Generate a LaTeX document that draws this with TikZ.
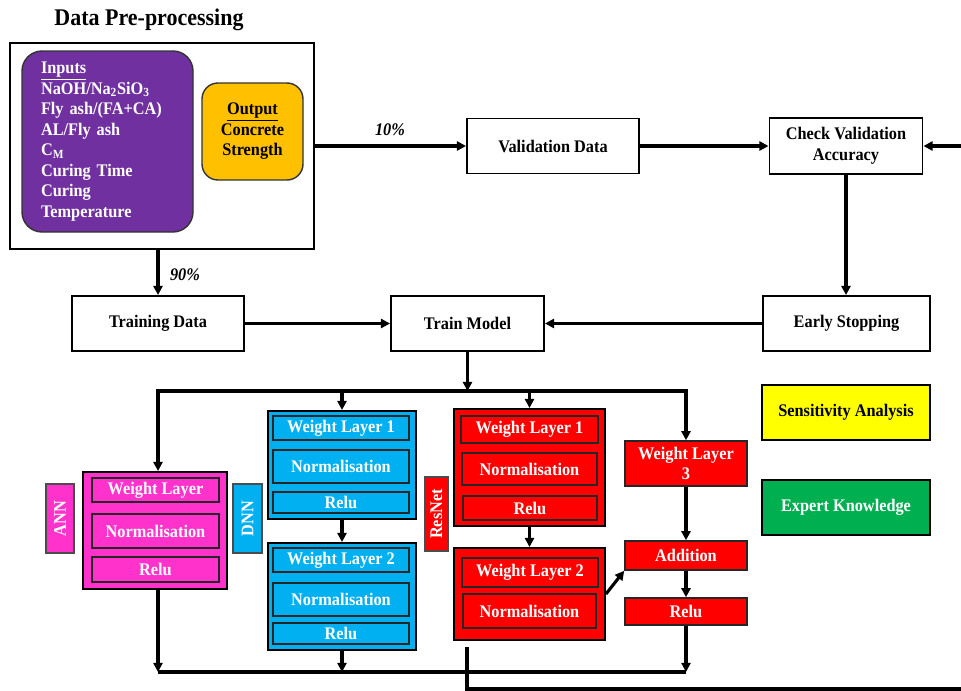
\documentclass[tikz,border=0pt]{standalone}
\usepackage{fontspec}
\setmainfont[FakeStretch=0.92]{Liberation Serif}
\usetikzlibrary{arrows.meta}

\definecolor{inpurple}{HTML}{7030A0}
\definecolor{outorange}{HTML}{FFC000}
\definecolor{annpink}{HTML}{FF33CC}
\definecolor{dnnblue}{HTML}{00B0F0}
\definecolor{resred}{HTML}{FF0000}
\definecolor{sensyellow}{HTML}{FFFF00}
\definecolor{expgreen}{HTML}{00B050}
\newcommand{\bfont}{\fontsize{12.6}{14.6}\selectfont\bfseries}

\tikzset{
  sz/.style 2 args={minimum width=#1*0.025cm, minimum height=#2*0.025cm},
  flowbox/.style={draw, line width=1.4pt, fill=white, inner sep=0pt, align=center, font=\bfont},
  netbox/.style={draw, line width=1.4pt, fill=#1, inner sep=0pt},
  layer/.style={draw=black!85, line width=1.1pt, fill=#1, text=white, inner sep=0pt, align=center, font=\bfont},
  tag/.style={draw=black!70, line width=0.8pt, fill=#1, text=white, inner sep=0pt, font=\bfont, rotate=90},
  flow/.style={line width=2.2pt, -{Triangle[length=6.5pt,width=6.5pt]}},
  wire/.style={line width=2.2pt},
}

\begin{document}
\begin{tikzpicture}[x=0.025cm, y=-0.025cm]
			%%%%% START %%%%%
			\useasboundingbox (0,0) rectangle (961,691);
			
			% data pre-processing
			\node[font=\fontsize{17}{20}\selectfont\bfseries] (title) at (149,20) {Data Pre-processing};
			\node[draw, line width=1.4pt, sz={304}{206}] (prep) at (162,146) {};
			\node[draw=black!80, line width=1pt, fill=inpurple, rounded corners=0.5cm, sz={171}{181}, text=white, font=\bfont, align=left, text width=133*0.025cm, inner sep=0pt] (inputs) at (107.5,141.5)
				{\underline{Inputs}\\NaOH/Na\textsubscript{2}SiO\textsubscript{3}\\Fly ash/(FA+CA)\\AL/Fly ash\\C\textsubscript{M}\\Curing Time\\Curing\\Temperature};
			\node[draw=black!80, line width=1pt, fill=outorange, rounded corners=0.4cm, sz={101}{97}, font=\bfont, align=center, inner sep=0pt] (output) at (252.5,131.5)
				{\underline{Output}\\Concrete\\Strength};
			
			% flow boxes
			\node[flowbox, sz={172}{55}] (valid) at (553,146) {Validation Data};
			\node[flowbox, sz={153}{56}] (check) at (846,146) {Check Validation\\Accuracy};
			\node[flowbox, sz={172}{55}] (train) at (158,323.5) {Training Data};
			\node[flowbox, sz={153}{55}] (model) at (467.5,323.5) {Train Model};
			\node[flowbox, sz={167}{55}] (early) at (846.5,323.5) {Early Stopping};
			\node[flowbox, fill=sensyellow, sz={168}{55}] (sens) at (846,412.5) {Sensitivity Analysis};
			\node[flowbox, fill=expgreen, text=white, sz={168}{55}] (expert) at (846,507.5) {Expert Knowledge};
			
			\node[font=\bfont\itshape] (pctval) at (390,130) {10\%};
			\node[font=\bfont\itshape] (pcttrain) at (185,275) {90\%};
			
			% ANN
			\node[tag=annpink, sz={69}{28}] (anntag) at (60,518.5) {ANN};
			\node[netbox=annpink, sz={144}{117}] (ann) at (155,530.5) {};
			\node[layer=annpink, sz={127}{24}] (annw) at (155.5,490) {Weight Layer};
			\node[layer=annpink, sz={127}{34}] (annn) at (155.5,531) {Normalisation};
			\node[layer=annpink, sz={127}{25}] (annr) at (155.5,569.5) {Relu};
			
			% DNN
			\node[tag=dnnblue, sz={69}{29}] (dnntag) at (247.5,518.5) {DNN};
			\node[netbox=dnnblue, sz={148}{108}] (dnnA) at (342,465) {};
			\node[layer=dnnblue, sz={136}{24}] (dnnAw) at (341,428) {Weight Layer 1};
			\node[layer=dnnblue, sz={136}{33}] (dnnAn) at (341,466.5) {Normalisation};
			\node[layer=dnnblue, sz={136}{21}] (dnnAr) at (341,502.5) {Relu};
			\node[netbox=dnnblue, sz={148}{107}] (dnnB) at (342,596.5) {};
			\node[layer=dnnblue, sz={136}{24}] (dnnBw) at (341,560) {Weight Layer 2};
			\node[layer=dnnblue, sz={136}{33}] (dnnBn) at (341,599.5) {Normalisation};
			\node[layer=dnnblue, sz={136}{21}] (dnnBr) at (341,633.5) {Relu};
			
			% ResNet
			\node[tag=resred, sz={74}{23}] (restag) at (436.5,514) {ResNet};
			\node[netbox=resred, sz={151}{117}] (resA) at (529.5,467.5) {};
			\node[layer=resred, sz={137}{27}] (resAw) at (529.5,429.5) {Weight Layer 1};
			\node[layer=resred, sz={135}{32}] (resAn) at (529.5,469) {Normalisation};
			\node[layer=resred, sz={134}{24}] (resAr) at (530,508) {Relu};
			\node[netbox=resred, sz={151}{92}] (resB) at (529.5,594) {};
			\node[layer=resred, sz={136}{29}] (resBw) at (530,572.5) {Weight Layer 2};
			\node[layer=resred, sz={133}{34}] (resBn) at (529.5,611) {Normalisation};
			\node[layer=resred, sz={122}{45}] (wl3) at (686,463.5) {Weight Layer\\3};
			\node[layer=resred, sz={122}{29}] (add) at (686,555.5) {Addition};
			\node[layer=resred, sz={122}{27}] (relu3) at (686,611.5) {Relu};
			
			% buses
			\coordinate (busTL) at (158,391);
			\coordinate (busBL) at (158,672);
			\coordinate (busBR) at (686,672);
			\coordinate (fbstart) at (467,647);
			\coordinate (fbend) at (961,689);
			\coordinate (fbin) at (961,146);
			
			% connectors
			\draw[flow] (prep.east |- valid.west) -- (valid.west);
			\draw[flow] (valid.east) -- (check.west);
			\draw[flow] (fbin) -- (check.east);
			\draw[flow] (check.south) -- (check.south |- early.north);
			\draw[flow] (train.north |- prep.south) -- (train.north);
			\draw[flow] (train.east) -- (model.west);
			\draw[flow] (early.west) -- (model.east);
			\draw[flow] (model.south) -- (model.south |- busTL);
			\draw[flow] (model.south |- busTL) -| (busTL |- ann.north);
			\draw[flow] (model.south |- busTL) -| (wl3.north);
			\draw[flow] (dnnA.north |- busTL) -- (dnnA.north);
			\draw[flow] (resA.north |- busTL) -- (resA.north);
			\draw[flow] (dnnA.south) -- (dnnB.north);
			\draw[flow] (resA.south) -- (resB.north);
			\draw[flow] (wl3.south) -- (add.north);
			\draw[flow] (add.south) -- (relu3.north);
			\draw[flow] (resB.east) -- (add.south west);
			\draw[wire] (busBL) -- (busBR);
			\draw[flow] (busTL |- ann.south) -- (busBL);
			\draw[flow] (dnnB.south) -- (dnnB.south |- busBL);
			\draw[flow] (relu3.south) -- (busBR);
			\draw[wire] (fbstart) |- (fbend);
			
			%%%%% END %%%%%
\end{tikzpicture}
\end{document}
